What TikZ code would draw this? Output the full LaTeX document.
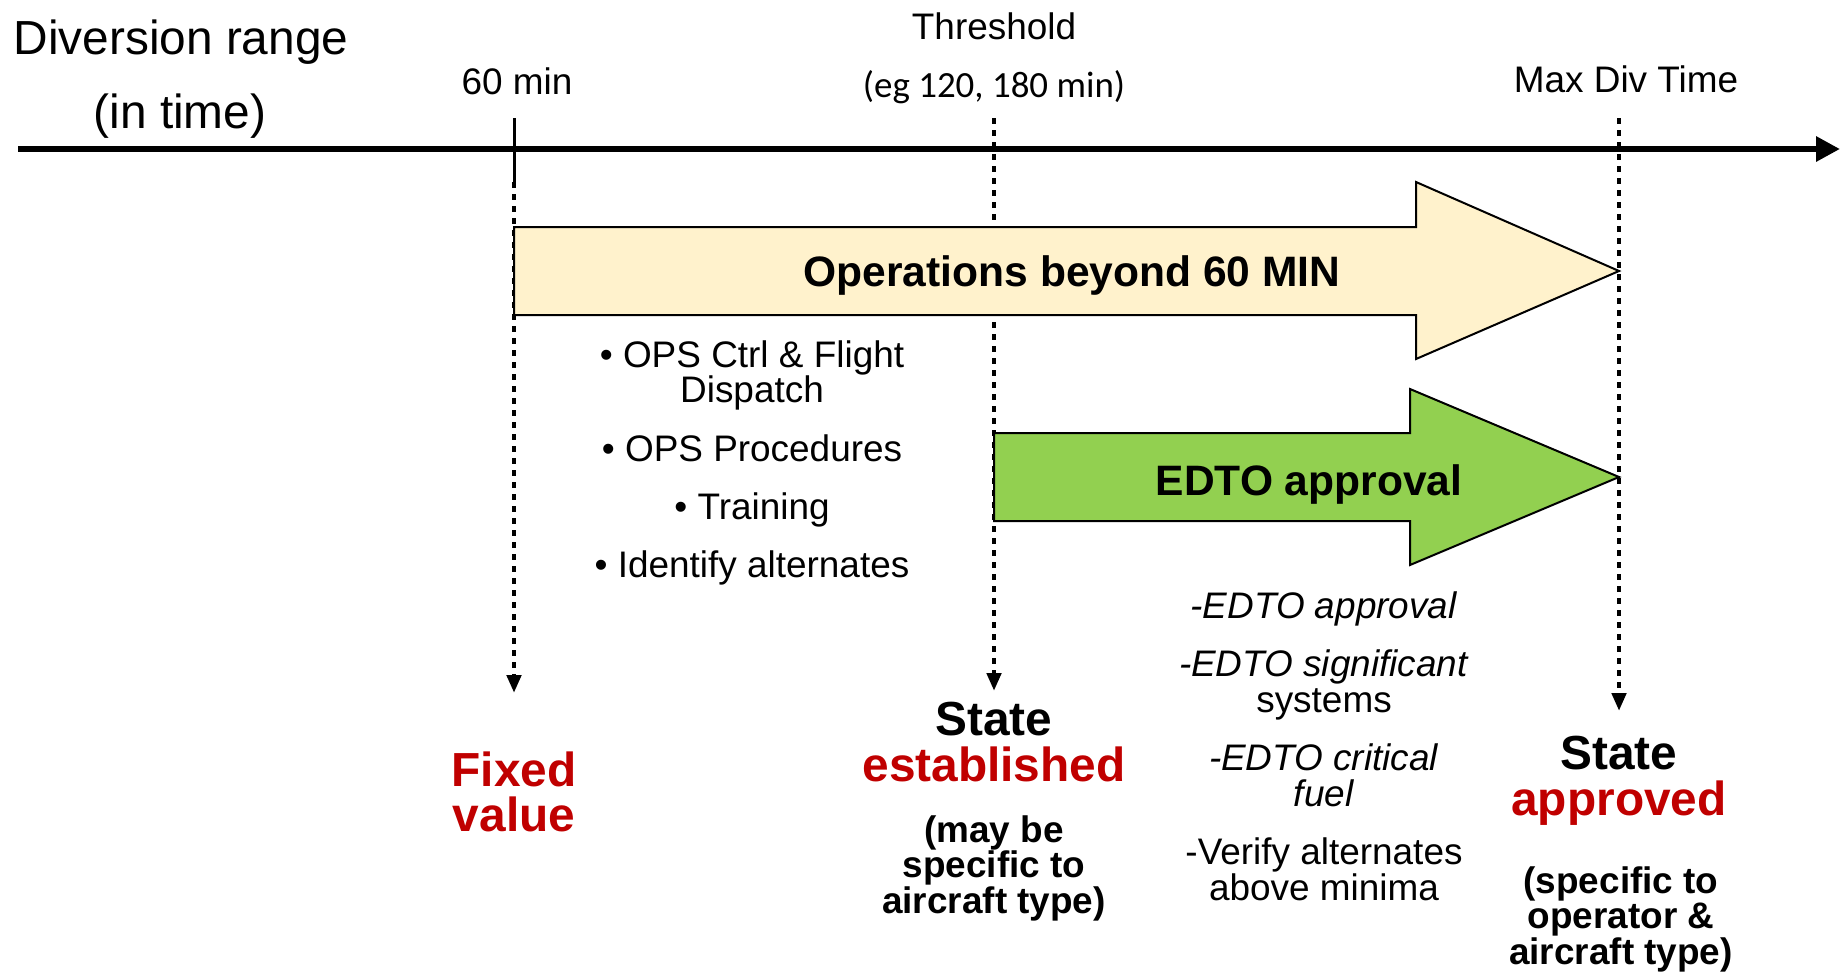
\documentclass[tikz,border=0pt]{standalone}
\usepackage{fontspec}
\setmainfont{Liberation Sans}
\newfontfamily\carlito{Carlito}
\usepackage{xcolor}
\usepackage{tikz}
\usetikzlibrary{arrows.meta}
\definecolor{opsyellow}{HTML}{FFF2CC}
\definecolor{edtogreen}{HTML}{92D050}
\definecolor{statered}{HTML}{C00000}
\tikzset{axis line/.style={line width=0.06cm,-{Triangle[length=0.24cm,width=0.24cm]}},
  div line/.style={line width=0.045cm,dash pattern=on 0.055cm off 0.065cm,-{Triangle[length=0.18cm,width=0.14cm]}},
  big arrow/.style={draw=black,line width=0.02cm,line join=miter},
  axis label/.style={font=\fontsize{13.6}{13}\selectfont,inner sep=0pt},
  small label/.style={font=\fontsize{10.5}{10.1}\selectfont,align=center,inner sep=0pt},
  arrow label/.style={font=\bfseries\fontsize{12.1}{12}\selectfont,inner sep=0pt},
  state label/.style={font=\bfseries\fontsize{13.6}{13}\selectfont,align=center,inner sep=0pt},
  note label/.style={font=\bfseries\fontsize{10.5}{10.1}\selectfont,align=center,inner sep=0pt}}
\def\gap{6.5pt}

\begin{document}
\begin{tikzpicture}[x=0.01cm,y=-0.01cm]
  \useasboundingbox (0,0) rectangle (1843,972);
  \coordinate (L) at (18,149);
  \coordinate (R) at (1840,149);
  \coordinate (T60) at (514,118);
  \coordinate (A60) at (514,182);
  \coordinate (B60) at (514,693);
  \coordinate (Tth) at (994,118);
  \coordinate (Bth) at (994,691);
  \coordinate (Tmax) at (1619,118);
  \coordinate (Bmax) at (1619,711);

  \draw[div line] (A60) -- (B60);
  \draw[div line] (Tth) -- (Bth);
  \draw[div line] (Tmax) -- (Bmax);
  \draw[line width=0.03cm] (T60) -- (A60);
  \draw[axis line] (L) -- (R);

  \filldraw[big arrow,fill=opsyellow] (514,227) -- (1416,227) -- (1416,182) -- (1619,271)
    -- (1416,359) -- (1416,315) -- (514,315) -- cycle;
  \filldraw[big arrow,fill=edtogreen] (994,433) -- (1410,433) -- (1410,389) -- (1619,477)
    -- (1410,565) -- (1410,521) -- (994,521) -- cycle;

  \node[axis label] (div) at (181,42) {Diversion range};
  \node[axis label] (divt) at (180,116) {(in time)};
  \node[small label] (m60) at (517,81) {60 min};
  \node[small label] (thr) at (994,26) {Threshold};
  \node[small label,font=\carlito\fontsize{10.5}{10.1}\selectfont] (eg) at (994,87) {(eg 120, 180 min)};
  \node[small label] (mdt) at (1626,79) {Max Div Time};

  \node[arrow label] (ops) at (1072,275) {Operations beyond 60 MIN};
  \node[arrow label] (edto) at (1309,484) {EDTO approval};

  \node[small label] (prep) at (752,463) {\textbullet\ OPS Ctrl \& Flight\\Dispatch\\[\gap]
    \textbullet\ OPS Procedures\\[\gap]\textbullet\ Training\\[\gap]\textbullet\ Identify alternates};
  \node[small label] (req) at (1324,746) {\textit{-EDTO approval}\\[\gap]\textit{-EDTO significant}\\systems\\[\gap]
    \textit{-EDTO critical}\\\textit{fuel}\\[\gap]-Verify alternates\\above minima};

  \node[state label,text=statered] (fix) at (514,792) {Fixed\\value};
  \node[state label] (est) at (994,742) {State\\\textcolor{statered}{established}};
  \node[note label] (estn) at (994,868) {(may be\\specific to\\aircraft type)};
  \node[state label] (appr) at (1619,781) {State\\\textcolor{statered}{approved}};
  \node[note label] (apprn) at (1621,919) {(specific to\\operator \&\\aircraft type)};
\end{tikzpicture}
\end{document}
